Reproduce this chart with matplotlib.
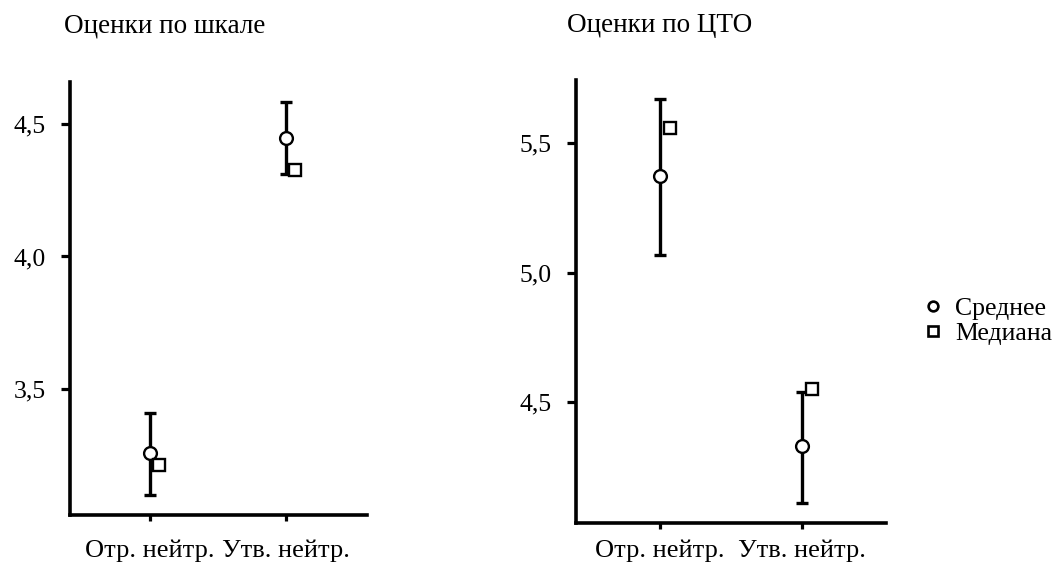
import matplotlib
matplotlib.use('Agg')
import matplotlib.pyplot as plt
from matplotlib.lines import Line2D
from matplotlib.ticker import FuncFormatter
import numpy as np

plt.rcParams['font.family'] = ['Liberation Serif', 'DejaVu Serif']

# categories (x axis)
groups = ['Отр. нейтр.', 'Утв. нейтр.']

# panel 1: "Оценки по шкале"
scale_mean = [3.258, 4.448]
scale_low = [3.100, 4.310]
scale_high = [3.409, 4.584]
scale_median = [3.213, 4.326]

# panel 2: "Оценки по ЦТО"
cto_mean = [5.375, 4.329]
cto_low = [5.068, 4.109]
cto_high = [5.671, 4.536]
cto_median = [5.558, 4.548]

titles = ['Оценки по шкале', 'Оценки по ЦТО']
legend_labels = ['Среднее', 'Медиана']

fig = plt.figure(figsize=(10.56, 5.63), dpi=100)
ax1 = fig.add_axes([0.0663, 0.0853, 0.2813, 0.769])
ax2 = fig.add_axes([0.5455, 0.0710, 0.2936, 0.787])

comma = FuncFormatter(lambda v, p: ('%.1f' % v).replace('.', ','))


def draw_panel(ax, mean, low, high, median, ylim, yticks, shift, xpad):
    x = np.arange(len(groups))
    mean = np.array(mean)
    err = [mean - np.array(low), np.array(high) - mean]
    ax.errorbar(x, mean, yerr=err, fmt='none', ecolor='black',
                elinewidth=2.4, capsize=4.5, capthick=2.4, zorder=2)
    ax.plot(x, mean, 'o', ms=9.2, mfc='white', mec='black', mew=1.7, zorder=3)
    ax.plot(x + shift, median, 's', ms=8, mfc='white', mec='black', mew=1.7,
            zorder=3)
    ax.set_xlim(-0.59, 1.595)
    ax.set_ylim(*ylim)
    ax.set_xticks(x)
    ax.set_xticklabels(groups)
    ax.set_yticks(yticks)
    ax.yaxis.set_major_formatter(comma)
    for s in ['top', 'right']:
        ax.spines[s].set_visible(False)
    for s in ['left', 'bottom']:
        ax.spines[s].set_linewidth(2.6)
    ax.tick_params(axis='y', length=6.5, width=2.3, pad=11, labelsize=18.5)
    ax.tick_params(axis='x', length=4, width=2.3, pad=xpad, labelsize=19)


draw_panel(ax1, scale_mean, scale_low, scale_high, scale_median,
           (3.025, 4.658), [3.5, 4.0, 4.5], 0.065, 14)
draw_panel(ax2, cto_mean, cto_low, cto_high, cto_median,
           (4.031, 5.745), [4.5, 5.0, 5.5], 0.07, 8)

fig.text(64 / 1056, 1 - 26 / 563, titles[0], fontsize=19.5, va='center')
fig.text(567 / 1056, 1 - 26 / 563, titles[1], fontsize=19.5, va='center')

handles = [
    Line2D([], [], ls='none', marker='o', ms=7, mfc='white', mec='black', mew=1.9),
    Line2D([], [], ls='none', marker='s', ms=7, mfc='white', mec='black', mew=1.9),
]
fig.legend(handles, legend_labels, loc='center left',
           bbox_to_anchor=(0.879, 1 - 321 / 563), frameon=False,
           fontsize=18.5, handlelength=0.4, handletextpad=0.65,
           labelspacing=0.05, borderaxespad=0, borderpad=0)

fig.savefig('out.png', dpi=100)
